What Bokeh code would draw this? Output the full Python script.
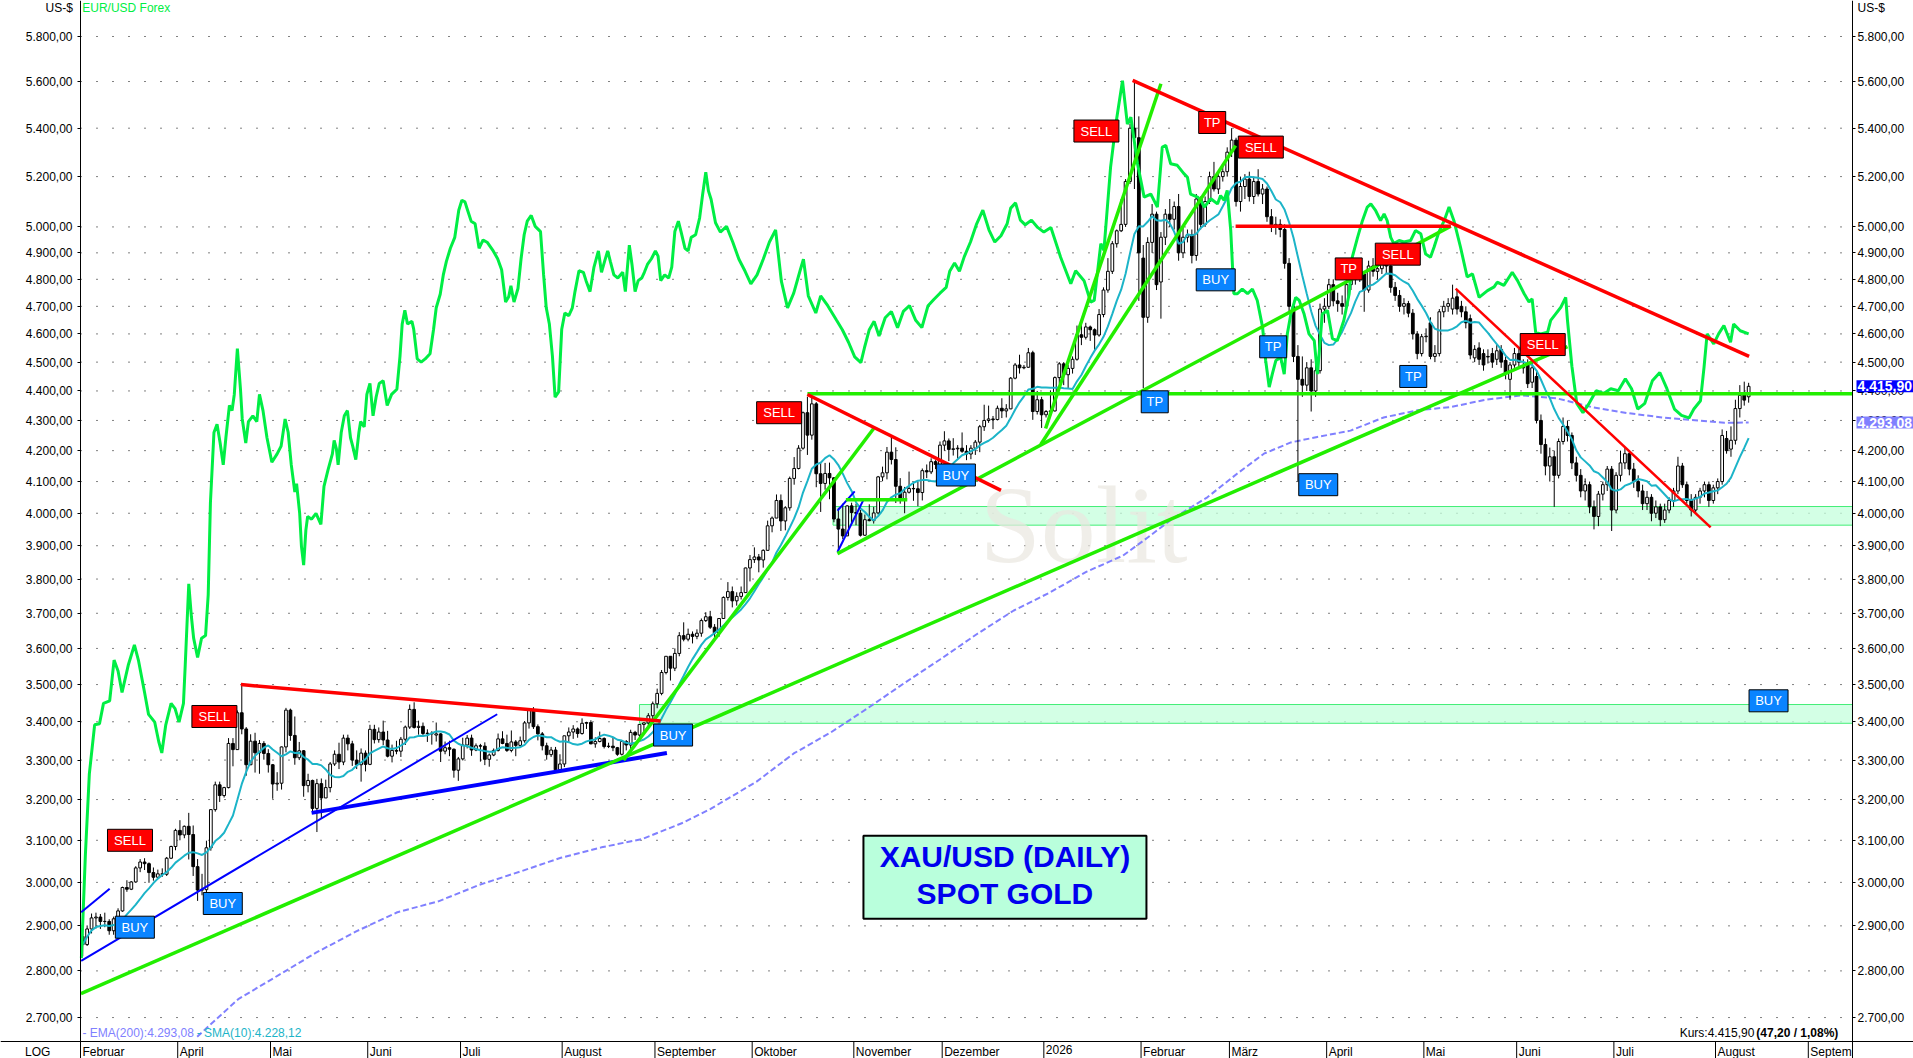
import numpy as np
from bokeh.plotting import figure
from bokeh.models import Range1d, LinearScale, LogAxis, FixedTicker, ColumnDataSource, Label
from bokeh.embed import file_html
from bokeh.resources import INLINE
from bokeh.core.properties import value

FONT = "Liberation Sans"

# ---------------- daily candles (index 0 = 28 Feb 2025) ----------------
opens = [
 2876,2858,2893,2918,2920,2910,2910,2889,2916,2934, 2988,2984,3001,3034,3048,3044,3023,3012,3020,3019,
 3057,3085,3124,3113,3134,3114,3037,2982,2983,3082, 3175,3237,3210,3230,3343,3327,3424,3381,3288,3349,
 3319,3343,3317,3288,3239,3241,3334,3431,3364,3306, 3324,3235,3248,3178,3240,3204,3230,3290,3315,3295,
 3357,3342,3300,3288,3318,3289,3380,3353,3373,3352, 3310,3325,3323,3354,3386,3433,3385,3388,3369,3370,
 3365,3368,3323,3332,3328,3274,3303,3339,3357,3326, 3337,3336,3302,3313,3325,3355,3343,3325,3347,3338,
 3350,3397,3431,3387,3368,3337,3314,3326,3275,3290, 3363,3373,3381,3369,3396,3398,3342,3348,3356,3335,
 3336,3332,3315,3348,3339,3372,3365,3393,3397,3416, 3448,3476,3533,3578,3545,3586,3636,3626,3640,3634,
 3643,3679,3690,3660,3644,3685,3746,3763,3736,3749, 3760,3833,3858,3866,3857,3886,3961,3985,4040,3976,
 4017,4110,4142,4208,4326,4251,4356,4125,4094,4126, 4112,3982,3951,3930,4023,4002,4000,3932,3980,3977,
 4001,4115,4128,4195,4171,4085,4046,4066,4078,4077, 4065,4135,4131,4164,4155,4218,4232,4204,4206,4208,
 4198,4189,4208,4228,4279,4300,4305,4303,4341,4332, 4339,4444,4490,4480,4482,4533,4330,4370,4319,4330,
 4332,4446,4494,4456,4478,4510,4597,4588,4625,4615, 4596,4670,4760,4830,4935,4985,5010,5180,5400,5360,
 4880,4660,4940,5050,4790,4960,5050,5030,5080,4900, 4960,4970,4890,5110,5010,5100,5200,5150,5200,5220,
 5300,5350,5100,5160,5190,5120,5180,5130,5150,5040, 5000,5010,4990,4860,4700,4520,4440,4420,4480,4400,
 4470,4690,4700,4780,4720,4710,4700,4780,4800,4830, 4820,4760,4850,4830,4840,4860,4850,4770,4740,4700,
 4710,4675,4600,4530,4590,4640,4520,4530,4680,4700, 4690,4735,4700,4680,4655,4515,4550,4530,4520,4530,
 4510,4545,4506,4440,4490,4530,4485,4490,4430,4450, 4300,4220,4150,4180,4120,4230,4280,4250,4160,4120,
 4070,4090,4020,3990,4060,4090,4140,4010,4120,4160, 4190,4140,4100,4070,4030,4050,4000,4020,3980,4010,
 4040,4070,4150,4090,4040,4010,4050,4070,4090,4040, 4080,4100,4240,4205,4234,4340,4390,4380]
highs = [
 2882,2901,2928,2930,2927,2930,2915,2921,2940,2990, 3005,3003,3038,3055,3057,3047,3035,3030,3033,3060,
 3087,3128,3149,3136,3167,3136,3055,3020,3099,3176, 3245,3245,3232,3357,3357,3430,3500,3386,3367,3371,
 3352,3349,3328,3290,3269,3335,3437,3435,3414,3347, 3326,3265,3250,3252,3253,3250,3295,3325,3345,3366,
 3366,3350,3325,3330,3325,3392,3392,3385,3403,3376, 3340,3350,3360,3390,3446,3452,3403,3398,3380,3375,
 3398,3370,3348,3350,3330,3308,3358,3365,3366,3343, 3342,3346,3317,3330,3369,3375,3366,3377,3352,3361,
 3402,3433,3439,3393,3373,3345,3334,3334,3315,3363, 3385,3391,3385,3409,3400,3404,3359,3374,3359,3345,
 3358,3334,3350,3352,3379,3376,3394,3398,3423,3454, 3489,3540,3578,3578,3600,3646,3674,3656,3648,3654,
 3685,3703,3707,3669,3686,3749,3791,3778,3761,3778, 3834,3872,3895,3875,3889,3977,3990,4059,4059,4022,
 4116,4179,4218,4330,4380,4381,4362,4162,4160,4161, 4114,4017,4030,4025,4033,4030,4010,3996,4028,4020,
 4118,4148,4212,4245,4211,4111,4083,4132,4095,4100, 4142,4155,4175,4169,4230,4264,4240,4241,4218,4260,
 4218,4218,4235,4285,4353,4350,4315,4350,4375,4355, 4448,4497,4526,4490,4550,4540,4400,4380,4335,4402,
 4450,4500,4500,4490,4520,4630,4635,4640,4630,4620, 4690,4770,4880,4945,4990,5110,5190,5420,5600,5450,
 4930,4960,5090,5060,4980,5070,5110,5100,5130,5000, 4990,4990,5130,5120,5120,5220,5260,5220,5250,5320,
 5400,5360,5200,5210,5220,5200,5230,5170,5160,5070, 5040,5030,5010,4880,4720,4560,4520,4500,4510,4500,
 4710,4730,4800,4800,4750,4740,4800,4830,4850,4850, 4830,4870,4880,4860,4880,4880,4860,4790,4760,4730,
 4720,4690,4610,4600,4620,4660,4560,4690,4720,4730, 4780,4760,4720,4700,4670,4560,4570,4545,4545,4550,
 4560,4560,4520,4500,4550,4550,4510,4510,4500,4470, 4320,4240,4210,4200,4240,4310,4300,4260,4180,4140,
 4110,4100,4040,4070,4100,4150,4150,4130,4200,4210, 4200,4160,4120,4090,4070,4060,4040,4030,4030,4050,
 4080,4180,4160,4100,4060,4060,4080,4100,4100,4090, 4110,4270,4265,4280,4370,4420,4432,4428]
lows = [
 2832,2855,2883,2894,2893,2897,2880,2880,2905,2932, 2978,2982,2999,3024,3029,2999,3004,3008,3013,3015,
 3055,3076,3100,3105,3054,3015,2957,2970,2957,3075, 3170,3194,3205,3228,3284,3327,3367,3260,3287,3268,
 3265,3301,3268,3202,3222,3225,3320,3350,3288,3300, 3207,3218,3168,3120,3154,3204,3218,3285,3277,3287,
 3325,3285,3277,3245,3271,3287,3343,3345,3339,3307, 3294,3315,3308,3339,3381,3382,3366,3362,3347,3340,
 3348,3295,3315,3310,3255,3247,3299,3330,3311,3323, 3296,3287,3283,3310,3322,3341,3321,3320,3310,3332,
 3345,3382,3381,3351,3325,3301,3308,3268,3268,3282, 3347,3355,3358,3366,3381,3341,3332,3346,3330,3331,
 3323,3311,3312,3325,3322,3352,3351,3369,3384,3406, 3436,3471,3528,3511,3537,3578,3620,3620,3614,3626,
 3633,3675,3655,3628,3633,3684,3737,3717,3722,3740, 3759,3793,3848,3820,3834,3885,3941,3985,3945,3947,
 4008,4090,4139,4203,4186,4236,4082,4004,4074,4044, 3972,3886,3920,3930,3967,3963,3928,3930,3975,3968,
 3996,4101,4107,4155,4032,4030,4000,4062,4039,4022, 4040,4111,4124,4140,4152,4200,4166,4184,4174,4193,
 4169,4172,4186,4195,4265,4292,4271,4300,4308,4310, 4338,4440,4460,4475,4480,4302,4320,4275,4310,4310,
 4330,4425,4420,4410,4460,4505,4560,4580,4575,4540, 4590,4660,4750,4820,4920,4980,5000,5170,5150,4720,
 4410,4640,4900,4760,4655,4930,5000,4990,4870,4880, 4940,4860,4870,4990,5000,5090,5140,5130,5180,5200,
 5280,5080,5060,5110,5100,5090,5120,5090,5020,4980, 4970,4960,4840,4680,4500,4100,4380,4400,4330,4380,
 4460,4640,4690,4700,4680,4670,4680,4760,4780,4790, 4680,4750,4810,4800,4820,4820,4750,4720,4680,4670,
 4660,4580,4510,4520,4570,4510,4500,4520,4660,4680, 4670,4670,4660,4620,4510,4500,4490,4470,4495,4480,
 4490,4480,4440,4370,4480,4480,4460,4410,4410,4290, 4190,4120,4100,4020,4110,4220,4230,4140,4100,4050,
 4040,4000,3950,3960,4040,4070,3945,4000,4100,4140, 4120,4080,4050,4010,4010,3975,3985,3960,3970,4000,
 4020,4060,4080,4030,3990,4000,4030,4050,4020,4030, 4060,4090,4190,4180,4220,4310,4350,4360]
closes = [
 2858,2893,2918,2920,2910,2910,2889,2916,2934,2988, 2984,3001,3034,3048,3044,3023,3012,3020,3019,3057,
 3085,3124,3113,3134,3114,3037,2982,2983,3082,3175, 3237,3210,3230,3343,3327,3424,3381,3288,3349,3319,
 3343,3317,3288,3239,3241,3334,3431,3364,3306,3324, 3235,3248,3178,3240,3204,3230,3290,3315,3295,3357,
 3342,3300,3288,3318,3289,3380,3353,3373,3352,3310, 3325,3323,3354,3386,3433,3385,3388,3369,3370,3368,
 3368,3323,3332,3328,3274,3303,3339,3357,3326,3337, 3336,3302,3313,3325,3355,3343,3325,3347,3338,3350,
 3397,3431,3387,3368,3337,3314,3326,3275,3290,3363, 3373,3381,3369,3396,3398,3342,3348,3356,3335,3336,
 3332,3315,3348,3339,3372,3365,3393,3397,3416,3448, 3476,3533,3578,3545,3586,3636,3626,3640,3634,3643,
 3679,3690,3660,3644,3685,3746,3763,3736,3749,3760, 3833,3858,3866,3857,3886,3961,3985,4040,3976,4017,
 4110,4142,4208,4326,4251,4356,4125,4094,4126,4112, 3982,3951,3930,4023,4002,4000,3932,3980,3977,4001,
 4115,4128,4195,4171,4085,4046,4066,4078,4077,4065, 4135,4131,4164,4155,4218,4232,4204,4206,4208,4198,
 4189,4208,4228,4279,4300,4305,4303,4341,4332,4339, 4444,4490,4480,4482,4533,4330,4370,4319,4330,4332,
 4446,4494,4456,4478,4510,4597,4588,4625,4615,4596, 4670,4760,4830,4935,4985,5010,5180,5400,5360,4900,
 4660,4940,5050,4780,4960,5050,5030,5080,4900,4960, 4970,4890,5110,5010,5100,5200,5150,5200,5220,5300,
 5350,5100,5160,5190,5120,5180,5130,5150,5040,5000, 5010,4990,4860,4700,4520,4440,4420,4480,4400,4470,
 4690,4700,4780,4720,4710,4700,4780,4800,4830,4820, 4760,4850,4830,4840,4860,4850,4770,4740,4700,4710,
 4675,4600,4530,4590,4592,4520,4530,4680,4700,4710, 4730,4690,4680,4640,4525,4545,4510,4490,4518,4500,
 4540,4500,4460,4490,4530,4500,4480,4425,4480,4300, 4220,4150,4180,4120,4230,4280,4250,4160,4120,4070,
 4090,4020,3990,4060,4090,4140,4010,4120,4160,4190, 4140,4100,4070,4030,4050,4000,4020,3980,4010,4040,
 4070,4150,4090,4040,4010,4050,4070,4090,4040,4080, 4100,4250,4200,4234,4340,4385,4368.7,4415.9]

# ---------------- EMA(200) ----------------
ema_x = [26.4, 35.7, 44, 53.3, 62.5, 71.7, 81, 90.2, 99.4, 108.7, 117.9, 127.1, 136.4, 142.6, 153,
         161.4, 169.8, 178, 186.3, 194.5, 202.8, 211.2, 219.3, 227.7, 235.9, 241.5, 247, 255, 261.8,
         267.8, 273.9, 279.9, 287.4, 294.9, 302.5, 310, 318, 326, 334, 342, 350, 358, 366, 372, 377.5]
ema_v = [2660, 2739, 2786, 2840, 2888, 2931, 2956, 2994, 3025, 3058, 3083, 3103, 3143, 3177, 3245,
         3317, 3372, 3435, 3503, 3569, 3640, 3708, 3760, 3822, 3870, 3925, 3982, 4050, 4126,
         4190, 4227, 4245, 4266, 4310, 4334, 4345, 4370, 4385, 4375, 4345, 4325, 4310, 4300, 4292, 4293.08]

# ---------------- EUR/USD Forex overlay (own scale) ----------------
eur_x = [0.2,1.1,2.0,3.2,4.3,5.2,6.6,7.6,8.5,9.4,10.8,12.2,13.1,14.5,15.4,16.8,17.7,18.4,19.3,20.5,
 21.4,22.3,23.3,23.7,24.5,25.1,25.6,26.5,27.4,28.3,28.9,29.4,30.2,30.9,31.6,32.3,32.9,33.7,34.3,34.8,
 35.5,36.2,36.6,37.4,38.0,39.0,39.9,40.5,41.3,42.2,43.3,44.5,45.4,46.3,47.0,47.7,48.5,48.9,49.6,50.0,
 50.5,51.0,51.4,52.3,53.3,54.4,55.1,56.0,57.0,57.4,57.9,58.3,59.0,59.7,60.4,61.1,61.6,62.3,63.0,63.4,
 64.2,64.8,65.5,66.2,66.9,67.6,68.5,69.4,70.4,71.6,72.3,72.8,73.4,74.0,75.0,75.4,76.2,77.1,78.0,79.1,
 79.9,80.5,81.4,82.1,82.8,83.7,84.7,85.6,86.3,87.0,87.6,88.4,89.3,90.2,91.1,92.1,93.4,94.4,95.3,96.2,
 96.9,97.4,98.1,99.0,99.7,100.4,101.1,102.0,102.9,104.1,104.8,105.4,106.1,106.8,107.4,108.2,108.9,109.6,110.5,111.3,
 111.9,112.8,113.8,114.4,115.3,116.2,117.2,117.9,118.6,119.3,119.9,120.7,121.6,122.7,123.3,124.2,124.8,125.5,126.2,127.0,
 127.6,128.3,129.2,130.1,130.7,131.3,132.2,133.1,133.8,134.5,135.3,135.9,136.8,137.5,138.2,139.2,140.1,140.8,141.5,142.1,
 142.7,143.7,144.8,146.2,147.6,149.0,150.4,151.7,153.1,154.5,155.9,157.3,158.6,160.0,161.4,162.8,163.6,164.7,166.4,167.5,
 169.1,171.1,172.4,173.8,175.2,176.6,177.4,178.5,179.6,180.7,182.1,183.5,184.9,186.2,187.6,189.0,190.4,191.8,193.1,194.5,
 195.9,196.7,197.8,198.9,200.0,201.4,202.8,204.2,205.6,206.9,208.3,209.7,210.5,211.6,212.7,213.8,215.2,216.6,218.0,219.6,
 221.8,224.1,225.2,227.1,228.6,229.4,230.9,231.6,233.1,234.3,235.8,236.9,237.7,239.2,240.7,242.2,243.7,244.8,245.6,246.7,
 248.2,249.7,250.5,251.2,252.8,253.5,254.3,255.8,257.3,258.0,258.8,259.5,260.3,260.7,261.0,261.8,262.9,264.1,265.2,266.3,
 267.5,268.2,269.0,269.7,270.5,271.6,272.4,273.1,273.9,275.0,275.8,276.9,278.0,279.2,279.9,280.3,281.0,282.2,283.3,284.4,
 285.9,287.1,287.8,289.0,290.1,291.2,292.0,293.1,294.2,295.0,295.7,296.5,297.2,298.4,299.5,301.0,302.1,303.3,304.4,305.5,
 306.3,307.4,308.6,309.7,310.8,312.3,313.8,315.0,316.5,318.4,319.9,320.6,322.1,324.0,325.2,326.7,327.8,328.5,329.3,330.4,
 332.0,332.7,333.8,335.0,336.1,336.5,337.5,338.6,340.0,341.4,343.0,344.7,346.3,348.0,349.6,351.0,352.4,354.0,355.7,357.4,
 359.0,360.7,362.3,364.0,365.1,366.6,367.4,368.1,369.6,370.7,371.9,373.4,374.1,375.6,377.5]
eur_v = [1.0347,1.0544,1.0700,1.0794,1.0796,1.0835,1.0840,1.0918,1.0897,1.0856,1.0908,1.0947,1.0918,1.0856,1.0814,1.0799,1.0762,1.0740,1.0794,1.0835,
 1.0825,1.0799,1.0835,1.0908,1.1064,1.1001,1.0960,1.0923,1.0960,1.0965,1.1043,1.1219,1.1354,1.1370,1.1334,1.1292,1.1344,1.1406,1.1396,1.1427,
 1.1515,1.1437,1.1380,1.1334,1.1375,1.1386,1.1375,1.1427,1.1396,1.1344,1.1297,1.1313,1.1328,1.1380,1.1354,1.1292,1.1240,1.1256,1.1199,1.1136,
 1.1100,1.1167,1.1193,1.1188,1.1199,1.1178,1.1251,1.1282,1.1313,1.1339,1.1323,1.1292,1.1354,1.1386,1.1396,1.1344,1.1328,1.1302,1.1354,1.1375,
 1.1365,1.1427,1.1448,1.1386,1.1422,1.1448,1.1453,1.1406,1.1427,1.1437,1.1500,1.1562,1.1588,1.1562,1.1567,1.1552,1.1495,1.1489,1.1495,1.1505,
 1.1552,1.1593,1.1619,1.1656,1.1682,1.1707,1.1728,1.1780,1.1799,1.1796,1.1780,1.1759,1.1754,1.1707,1.1723,1.1718,1.1702,1.1687,1.1666,1.1604,
 1.1614,1.1635,1.1604,1.1630,1.1687,1.1733,1.1759,1.1770,1.1749,1.1739,1.1656,1.1593,1.1562,1.1500,1.1422,1.1432,1.1552,1.1583,1.1578,1.1593,
 1.1624,1.1664,1.1661,1.1645,1.1624,1.1671,1.1702,1.1661,1.1682,1.1702,1.1682,1.1656,1.1650,1.1661,1.1624,1.1713,1.1676,1.1624,1.1645,1.1650,
 1.1661,1.1676,1.1687,1.1702,1.1692,1.1645,1.1656,1.1650,1.1671,1.1739,1.1759,1.1739,1.1707,1.1702,1.1728,1.1733,1.1765,1.1811,1.1853,1.1817,
 1.1801,1.1756,1.1738,1.1749,1.1719,1.1686,1.1663,1.1639,1.1656,1.1686,1.1719,1.1742,1.1644,1.1593,1.1621,1.1663,1.1686,1.1616,1.1583,1.1616,
 1.1597,1.1569,1.1551,1.1527,1.1499,1.1488,1.1516,1.1551,1.1567,1.1539,1.1574,1.1586,1.1555,1.1586,1.1597,1.1569,1.1555,1.1597,1.1609,1.1621,
 1.1632,1.1663,1.1679,1.1663,1.1691,1.1719,1.1754,1.1780,1.1742,1.1719,1.1731,1.1754,1.1784,1.1794,1.1761,1.1752,1.1761,1.1747,1.1738,1.1747,
 1.1690,1.1639,1.1664,1.1645,1.1604,1.1607,1.1716,1.1703,1.1862,1.1945,1.2028,1.1945,1.1958,1.1869,1.1805,1.1811,1.1786,1.1901,1.1904,1.1869,
 1.1866,1.1850,1.1843,1.1811,1.1805,1.1799,1.1786,1.1802,1.1792,1.1808,1.1799,1.1818,1.1741,1.1671,1.1620,1.1620,1.1629,1.1620,1.1629,1.1607,
 1.1556,1.1492,1.1441,1.1466,1.1492,1.1498,1.1466,1.1543,1.1581,1.1613,1.1607,1.1581,1.1543,1.1530,1.1466,1.1505,1.1581,1.1588,1.1534,1.1530,
 1.1569,1.1620,1.1690,1.1728,1.1760,1.1786,1.1792,1.1779,1.1760,1.1773,1.1760,1.1728,1.1716,1.1722,1.1719,1.1722,1.1741,1.1735,1.1696,1.1690,
 1.1709,1.1738,1.1760,1.1786,1.1760,1.1709,1.1652,1.1658,1.1613,1.1626,1.1633,1.1642,1.1636,1.1661,1.1645,1.1620,1.1604,1.1610,1.1546,1.1543,
 1.1546,1.1569,1.1581,1.1594,1.1613,1.1569,1.1481,1.1410,1.1392,1.1410,1.1434,1.1429,1.1438,1.1434,1.1457,1.1438,1.1399,1.1410,1.1453,1.1469,
 1.1438,1.1399,1.1387,1.1382,1.1399,1.1415,1.1479,1.1543,1.1524,1.1543,1.1559,1.1527,1.1562,1.1549,1.1543]

# ---------------- axis / month labels ----------------
price_ticks = [2700, 2800, 2900, 3000, 3100, 3200, 3300, 3400, 3500, 3600, 3700, 3800, 3900,
               4000, 4100, 4200, 4300, 4400, 4500, 4600, 4700, 4800, 4900, 5000, 5200, 5400, 5600, 5800]
month_starts = [0, 22, 43, 65, 86, 109, 130, 152, 175, 195, 218, 240, 260, 282, 304, 325, 347, 370, 391]
month_labels = ["Februar", "April", "Mai", "Juni", "Juli", "August", "September", "Oktober", "November",
                "Dezember", "2026", "Februar", "März", "April", "Mai", "Juni", "Juli", "August", "September"]

# ---------------- drawn analysis objects ----------------
green_x0 = [0.1, 122.9, 171.3, 218.4, 217.3, 164.5, 173.2]
green_y0 = [2751, 3300, 3876, 4273, 4220, 4390, 4042]
green_x1 = [336.5, 179.5, 310.1, 244.5, 261.4, 401.0, 187.1]
green_y1 = [4555, 4273, 5003, 5590, 5327, 4390, 4042]

red_x0 = [36.3, 164.5, 238.1, 261.4, 311.2]
red_y0 = [3500, 4388, 5605, 5003, 4765]
red_x1 = [131.3, 208.3, 377.6, 310.1, 368.9]
red_y1 = [3402, 4072, 4520, 5003, 3956]

blue_x0 = [0.15, 0.15, 52.3, 171.3, 171.3]
blue_y0 = [2931, 2822, 3167, 4008, 3881]
blue_x1 = [6.6, 94.3, 132.7, 175.2, 177.3]
blue_y1 = [2985, 3420, 3318, 4069, 4045]

zone_left = [126.5, 170.3]
zone_right = [401.0, 401.0]
zone_low = [3396, 3963]
zone_high = [3446, 4021]

sig_x = [11.2, 30.3, 158.1, 229.9, 256.1, 267.1, 287.0, 298.1, 330.9,
         12.3, 32.2, 134.1, 198.1, 243.1, 256.9, 269.9, 280.1, 301.6, 382.0]
sig_y = [3100, 3414, 4326, 5388, 5424, 5321, 4839, 4895, 4562,
         2897, 2951, 3365, 4121, 4363, 4798, 4554, 4090, 4450, 3456]
sig_text = ["SELL", "SELL", "SELL", "SELL", "TP", "SELL", "TP", "SELL", "SELL",
            "BUY", "BUY", "BUY", "BUY", "TP", "BUY", "TP", "BUY", "TP", "BUY"]
sig_side = ["r"] * 9 + ["b"] * 10

last_close = 4415.90
last_ema = 4293.08
last_sma = 4228.12

# ---------------- layout constants ----------------
W, H = 1913, 1058
AXL, AXR = 80, 61                 # pixel room left of the left axis / right of the right axis
BAND = 17
X0, X1 = 0.0, 401.0               # chart area between the two price axes
PX = (W - AXL - AXR) / (X1 - X0)
XL, XR = X0 - AXL / PX, X1 + AXR / PX
Y_LO, Y_HI = 2615.2, 5965.0       # whole canvas height incl. month band
EUR_LO, EUR_HI = 1.01546, 1.21818
AX_HI = H / BAND                  # month band occupies 0..1 of this range


def de(v):
    s = f"{v:,.2f}"
    return s.replace(",", "X").replace(".", ",").replace("X", ".")


p = figure(width=W, height=H, x_range=Range1d(XL, XR), y_range=Range1d(Y_LO, Y_HI),
           y_axis_type="log", x_axis_location=None, toolbar_location=None,
           output_backend="svg", min_border=0, outline_line_color=None)
p.title.visible = False
p.extra_y_ranges = {"eur": Range1d(EUR_LO, EUR_HI), "axis": Range1d(0, AX_HI)}
p.extra_y_scales = {"eur": LinearScale(), "axis": LinearScale()}

labels_map = {t: de(t) for t in price_ticks}
ax = p.yaxis[0]
ax.ticker = FixedTicker(ticks=price_ticks, minor_ticks=[])
ax.major_label_overrides = labels_map
ax.fixed_location = X0
rax = LogAxis(ticker=FixedTicker(ticks=price_ticks, minor_ticks=[]), major_label_overrides=labels_map,
              fixed_location=X1)
p.add_layout(rax, "right")
for a, standoff in ((ax, 5), (rax, 2)):
    a.axis_line_color = "black"
    a.major_tick_line_color = "black"
    a.minor_tick_line_color = None
    a.major_tick_out = 3
    a.major_tick_in = 0
    a.major_label_standoff = standoff
    a.major_label_text_font = FONT
    a.major_label_text_font_size = "12px"
    a.major_label_text_color = "black"

p.grid.visible = False
# dotted price grid between the axes
p.segment(x0=[X0] * len(price_ticks), y0=price_ticks, x1=[X1] * len(price_ticks), y1=price_ticks,
          line_color="black", line_width=1, line_dash="1 15")

# zones
p.quad(left=zone_left, right=zone_right, bottom=zone_low, top=zone_high,
       fill_color="#c4ffdc", fill_alpha=0.75, line_color="#44ee77", line_width=1)

# watermark
p.text(x=[227], y=[3965], text=["Solit"], text_font=value("Liberation Serif"),
       text_font_size="110px", text_color="#e9e7e0", text_alpha=0.7,
       text_align="center", text_baseline="middle")

# EMA 200
p.line(ema_x, ema_v, line_color="#8080ff", line_width=2, line_dash="6 3")

# candles
n = len(closes)
cx = [i + 0.5 for i in range(n)]
src = ColumnDataSource(dict(
    x=cx, h=highs, l=lows,
    top=[max(o, c) for o, c in zip(opens, closes)],
    bot=[min(o, c) for o, c in zip(opens, closes)],
    fill=["white" if c >= o else "black" for o, c in zip(opens, closes)]))
p.segment("x", "h", "x", "l", source=src, line_color="black", line_width=1)
p.vbar(x="x", width=0.62, top="top", bottom="bot", fill_color="fill",
       line_color="black", line_width=1, source=src)

# SMA 10 of closes
sma = [float(np.mean(closes[max(0, i - 9):i + 1])) for i in range(n)]
p.line(cx, sma, line_color="#1cb4c8", line_width=2)

# EUR/USD
p.line(eur_x, eur_v, y_range_name="eur", line_color="#00ee44", line_width=3)

# trend lines
p.segment(blue_x0[:2], blue_y0[:2], blue_x1[:2], blue_y1[:2], line_color="#0000ff", line_width=2)
p.segment(blue_x0[2:3], blue_y0[2:3], blue_x1[2:3], blue_y1[2:3], line_color="#0000ff", line_width=4)
p.segment(blue_x0[3:], blue_y0[3:], blue_x1[3:], blue_y1[3:], line_color="#0000ff", line_width=2)
p.segment(green_x0, green_y0, green_x1, green_y1, line_color="#22ee00", line_width=3.5)
p.segment(red_x0[:4], red_y0[:4], red_x1[:4], red_y1[:4], line_color="#ff0000", line_width=3.5)
p.segment(red_x0[4:], red_y0[4:], red_x1[4:], red_y1[4:], line_color="#ff0000", line_width=2.5)

# signal boxes
wmap = {"SELL": 45, "TP": 27, "BUY": 39}
sig_src = ColumnDataSource(dict(
    x=sig_x, y=sig_y, t=sig_text,
    w=[wmap[t] for t in sig_text],
    c=["#ff0000" if s == "r" else "#0a84ff" for s in sig_side]))
p.rect(x="x", y="y", width="w", height=22, width_units="screen", height_units="screen",
       fill_color="c", line_color="black", line_width=1, source=sig_src)
p.text(x="x", y="y", text="t", text_align="center", text_baseline="middle",
       text_color="white", text_font=value(FONT), text_font_size="13px", source=sig_src)

# title box
p.rect(x=[209.2], y=[3012], width=283, height=83, width_units="screen", height_units="screen",
       fill_color="#b9ffdc", line_color="black", line_width=2)
p.text(x=[209.2, 209.2], y=[3062, 2975], text=["XAU/USD (DAILY)", "SPOT GOLD"],
       text_align="center", text_baseline="middle", text_color="#0000ee",
       text_font=value(FONT), text_font_size="30px", text_font_style="bold")

# ---------------- month band (bottom 17 px) ----------------
p.quad(left=[XL], right=[XR], bottom=[0], top=[1], y_range_name="axis",
       fill_color="white", line_color=None)
p.text(x=month_starts, y=[0.8] * len(month_starts), text=month_labels, y_range_name="axis",
       text_align="left", text_baseline="top", x_offset=2, text_font=value(FONT),
       text_font_size="12px", text_color="black")
p.text(x=[(24.5 - AXL) / PX], y=[0.8], text=["LOG"], y_range_name="axis",
       text_align="left", text_baseline="top", text_font=value(FONT),
       text_font_size="12px", text_color="black")
p.quad(left=[X1], right=[XR], bottom=[0], top=[0.95], y_range_name="axis",
       fill_color="white", line_color=None)
p.segment(x0=month_starts, y0=[0] * len(month_starts), x1=month_starts, y1=[1] * len(month_starts),
          y_range_name="axis", line_color="black", line_width=1)
p.segment(x0=[XL], y0=[1], x1=[XR], y1=[1], y_range_name="axis", line_color="black", line_width=1.2)


# annotation texts
def lab(x, y, t, **kw):
    d = dict(x=x, y=y, text=t, text_font=FONT, text_font_size="12px")
    d.update(kw)
    p.add_layout(Label(**d))


lab(0.4, Y_HI, "EUR/USD Forex", text_color="#00ee44", text_baseline="top")
lab((45 - AXL) / PX, Y_HI, "US-$", text_color="black", text_baseline="top")
lab((1857 - AXL) / PX, Y_HI, "US-$", text_color="black", text_baseline="top")
lab(0.45, 2668.6, "- EMA(200):" + de(last_ema), text_color="#8080ff", text_baseline="middle")
lab(26.3, 2668.6, "- SMA(10):" + de(last_sma), text_color="#1cb4c8", text_baseline="middle")
lab(378.8, 2668.6, "Kurs:" + de(last_close), text_color="black", text_baseline="middle", text_align="right")
lab(397.8, 2668.6, "(47,20 / 1,08%)", text_color="black", text_baseline="middle", text_align="right",
    text_font_style="bold")
lab((1856 - AXL) / PX, last_close, de(last_close), text_color="white", text_baseline="middle",
    text_font_style="bold", text_font_size="14px", background_fill_color="#0000ff", padding=1)
lab((1856 - AXL) / PX, last_ema, de(last_ema), text_color="white", text_baseline="middle",
    text_font_style="bold", text_font_size="14px", background_fill_color="#8080ff", padding=1)

open("out.html", "w").write(file_html(p, INLINE))
